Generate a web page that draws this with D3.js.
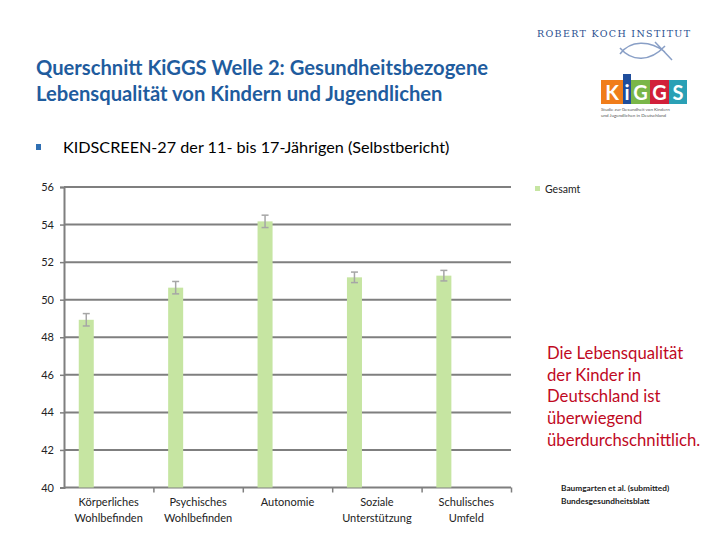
<!DOCTYPE html>
<html><head><meta charset="utf-8">
<script src="https://cdn.jsdelivr.net/npm/d3@7"></script>
<style>body{margin:0;background:#fff}svg{display:block}</style>
</head><body>
<script>
const categories = [["Körperliches","Wohlbefinden"],["Psychisches","Wohlbefinden"],["Autonomie"],["Soziale","Unterstützung"],["Schulisches","Umfeld"]];
const values = [48.93, 50.64, 54.17, 51.19, 51.28];
const errors = [0.33, 0.33, 0.33, 0.28, 0.28];
const yTicks = [40,42,44,46,48,50,52,54,56];
const seriesName = "Gesamt";
const titleLines = ["Querschnitt KiGGS Welle 2: Gesundheitsbezogene","Lebensqualität von Kindern und Jugendlichen"];
const subtitle = "KIDSCREEN-27 der 11- bis 17-Jährigen (Selbstbericht)";
const noteLines = ["Die Lebensqualität","der Kinder in","Deutschland ist","überwiegend","überdurchschnittlich."];
const sourceLines = ["Baumgarten et al. (submitted)","Bundesgesundheitsblatt"];

const W=720,H=540;
const svg=d3.select("body").append("svg").attr("width",W).attr("height",H);
const font="Lato, 'Open Sans', sans-serif";

// Title
svg.append("g").selectAll("text").data(titleLines).join("text")
  .attr("x",36).attr("y",(d,i)=>75+i*26).attr("font-family",font).attr("font-weight","bold")
  .attr("font-size",20.2).attr("fill","#1f5c9e").text(d=>d);
// bullet + subtitle
svg.append("rect").attr("x",36).attr("y",144).attr("width",5).attr("height",6).attr("fill","#2f6fb3");
svg.append("text").attr("x",63).attr("y",153).attr("font-family",font).attr("font-size",16.2).attr("fill","#000").text(subtitle);

// Logo
const lg=svg.append("g");
lg.append("text").attr("x",537).attr("y",37).attr("font-family","'DejaVu Serif', serif").attr("font-size",9.5)
  .attr("textLength",153).attr("lengthAdjust","spacing").attr("fill","#2a4f8f").text("ROBERT KOCH INSTITUT");
lg.append("path").attr("d","M620,54 C630,40 650,40 665,52 M620,48 C632,62 650,62 665,46 M655,42 L672,60").attr("fill","none").attr("stroke","#3a5fa0").attr("stroke-width",1.5).attr("opacity",0.6);
const blocks=[["K","#f07d1a",601,22],["i","#1f4e9c",623,8],["G","#7ab648",631,19],["G","#d1203a",650,19],["S","#2aa0b5",669,18]];
blocks.forEach(b=>{
  lg.append("rect").attr("x",b[2]).attr("y",b[1]==="#1f4e9c"?74:80).attr("width",b[3]).attr("height",b[1]==="#1f4e9c"?30:24).attr("fill",b[1]);
  lg.append("text").attr("x",b[2]+b[3]/2).attr("y",100).attr("text-anchor","middle").attr("font-family",font).attr("font-weight","bold").attr("font-size",20).attr("fill","#fff").text(b[0]);
});
lg.append("text").attr("x",601).attr("y",111).attr("font-family",font).attr("font-size",4.5).attr("fill","#555").text("Studie zur Gesundheit von Kindern");
lg.append("text").attr("x",601).attr("y",117).attr("font-family",font).attr("font-size",4.5).attr("fill","#555").text("und Jugendlichen in Deutschland");

// Chart
const x0=d3.scaleBand().domain(d3.range(categories.length)).range([64,511]).paddingInner(0).paddingOuter(0);
const y=d3.scaleLinear().domain([40,56]).range([487.5,187]);
const bw=x0.bandwidth()*0.168, boff=x0.bandwidth()*0.165;

// gridlines
svg.append("g").selectAll("line").data(yTicks.slice(1)).join("line")
  .attr("x1",64).attr("x2",511).attr("y1",d=>y(d)).attr("y2",d=>y(d))
  .attr("stroke","#7f7f7f").attr("stroke-width",2);

// y axis
const ya=svg.append("g").attr("transform","translate(64,0)").call(d3.axisLeft(y).tickValues(yTicks).tickSize(4).tickPadding(6));
ya.select(".domain").attr("stroke","#7f7f7f").attr("stroke-width",2);
ya.selectAll(".tick line").attr("stroke","#7f7f7f").attr("stroke-width",1.5);
ya.selectAll("text").attr("font-family",font).attr("font-size",11).attr("fill","#222");

// x axis
const xa=svg.append("g").attr("transform","translate(0,487.5)")
  .call(d3.axisBottom(d3.scaleLinear().domain([0,5]).range([64,511])).ticks(5).tickSize(5).tickFormat(""));
xa.select(".domain").attr("stroke","#7f7f7f").attr("stroke-width",2).attr("d","M64,0H511");
xa.selectAll(".tick line").attr("stroke","#7f7f7f").attr("stroke-width",1.5);
xa.selectAll(".tick").filter(d=>d===0).remove();

// bars
svg.append("g").selectAll("rect").data(values).join("rect")
  .attr("x",(d,i)=>x0(i)+boff).attr("y",d=>y(d)).attr("width",bw).attr("height",d=>y(40)-y(d))
  .attr("fill","#c6e5a2");

// error bars
const eg=svg.append("g").attr("stroke","#a6a6a6").attr("stroke-width",1.5);
values.forEach((v,i)=>{
  const cx=x0(i)+boff+bw/2;
  eg.append("line").attr("x1",cx).attr("x2",cx).attr("y1",y(v+errors[i])).attr("y2",y(v-errors[i]));
  eg.append("line").attr("x1",cx-3.5).attr("x2",cx+3.5).attr("y1",y(v+errors[i])).attr("y2",y(v+errors[i]));
  eg.append("line").attr("x1",cx-3.5).attr("x2",cx+3.5).attr("y1",y(v-errors[i])).attr("y2",y(v-errors[i]));
});

// category labels
const cl=svg.append("g");
categories.forEach((c,i)=>{
  const cx=x0(i)+x0.bandwidth()/2;
  c.forEach((t,j)=>cl.append("text").attr("x",cx).attr("y",506+j*15.5).attr("text-anchor","middle")
    .attr("font-family",font).attr("font-size",11).attr("fill","#222").text(t));
});

// legend
svg.append("rect").attr("x",535).attr("y",186).attr("width",5).attr("height",5).attr("fill","#c6e5a2");
svg.append("text").attr("x",545).attr("y",193).attr("font-family",font).attr("font-size",10.5).attr("fill","#222").text(seriesName);

// red note
svg.append("g").selectAll("text").data(noteLines).join("text")
  .attr("x",547).attr("y",(d,i)=>359+i*21.7).attr("font-family",font).attr("font-size",16.7).attr("fill","#c0091f").text(d=>d);

// source
svg.append("g").selectAll("text").data(sourceLines).join("text")
  .attr("x",561).attr("y",(d,i)=>491+i*13).attr("font-family",font).attr("font-weight","bold").attr("font-size",8.3).attr("fill","#222").text(d=>d);
</script>
</body></html>
